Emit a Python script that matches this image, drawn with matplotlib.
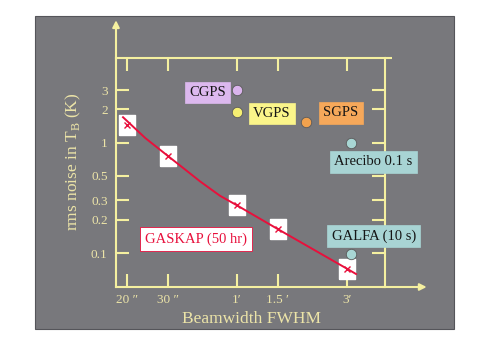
import numpy as np
import matplotlib
matplotlib.use("Agg")
import matplotlib.pyplot as plt
from matplotlib.patches import Rectangle

plt.rcParams['font.family'] = ['Liberation Serif', 'DejaVu Serif']

# ---- data (FWHM in arcsec, rms in K) ----
gaskap_fwhm = [20, 30, 60, 90, 180]
gaskap_rms = [1.45, 0.75, 0.27, 0.165, 0.072]

curve_fwhm = [19.2, 24, 30, 35, 41.5, 50.6, 60, 90, 180, 197]
curve_rms = [1.7, 1.1, 0.76, 0.59, 0.445, 0.33, 0.27, 0.165, 0.072, 0.0645]

survey_names = ['CGPS', 'VGPS', 'SGPS', 'Arecibo', 'GALFA']
survey_fwhm = [60, 60, 120, 188, 188]
survey_rms = [3.0, 1.9, 1.55, 1.0, 0.097]

xtick_vals = [20, 30, 60, 90, 180]
xtick_labels = ['20 \u2033', '30 \u2033', '1\u2032', '1.5 \u2032', '3\u2032']
ytick_vals = [0.1, 0.2, 0.3, 0.5, 1, 2, 3]
ytick_labels = ['0.1', '0.2', '0.3', '0.5', '1', '2', '3']

# ---- colours ----
bg = '#78787c'
axc = '#f5f0a0'
txtc = '#ece4a8'
red = '#e8103c'
survey_colors = ['#dab4ec', '#f6ef72', '#f2a24e', '#a8d6d4', '#a8d6d4']
box_colors = ['#dcb8ee', '#fbf58a', '#f6a85a', '#a8d4d4', '#a8d4d4']

fig = plt.figure(figsize=(4.9, 3.46), dpi=100)
fig.patches.append(Rectangle((35 / 490, 1 - 329 / 346), 419 / 490, 313 / 346,
                             transform=fig.transFigure, facecolor=bg,
                             edgecolor='#55555a', lw=0.8, zorder=-1))

ax = fig.add_axes([116 / 490, 1 - 287 / 346, 269 / 490, 229 / 346])
ax.set_facecolor('none')
ax.set_xscale('log')
ax.set_yscale('log')
ax.set_xlim(17.9, 263)
ax.set_ylim(0.0492, 5.85)

for s in ax.spines.values():
    s.set_color(axc)
    s.set_linewidth(1.5)

ax.set_xticks(xtick_vals)
ax.set_xticklabels(xtick_labels)
ax.set_yticks(ytick_vals)
ax.set_yticklabels(ytick_labels)
ax.minorticks_off()
ax.tick_params(which='both', direction='in', length=9.5, width=1.5, color=axc,
               labelcolor=txtc, labelsize=9.5, top=True, right=True, pad=5)
ax.tick_params(axis='y', pad=6)

# arrows and extended top line
ax.annotate('', xy=(0, 1.165), xytext=(0, 0.99), xycoords='axes fraction',
            arrowprops=dict(arrowstyle='-|>', color=axc, lw=1.5,
                            mutation_scale=10, shrinkA=0, shrinkB=0),
            annotation_clip=False)
ax.annotate('', xy=(1.155, 0), xytext=(0.99, 0), xycoords='axes fraction',
            arrowprops=dict(arrowstyle='-|>', color=axc, lw=1.5,
                            mutation_scale=10, shrinkA=0, shrinkB=0),
            annotation_clip=False)
ax.plot([1, 1.026], [1, 1], transform=ax.transAxes, color=axc, lw=1.5,
        clip_on=False, solid_capstyle='butt')

# GASKAP
rect = [(-0.76, -1), (0.76, -1), (0.76, 1), (-0.76, 1), (-0.76, -1)]
ax.plot(gaskap_fwhm, gaskap_rms, ls='none', marker=rect, markersize=15,
        markerfacecolor='white', markeredgecolor='white', zorder=3)
ax.plot(curve_fwhm, curve_rms, color=red, lw=1.4, zorder=4, solid_joinstyle='round')
ax.plot(gaskap_fwhm, gaskap_rms, ls='none', marker='x', markersize=5,
        markeredgewidth=1.0, color=red, zorder=5)

# other surveys
for fx, ry, c in zip(survey_fwhm, survey_rms, survey_colors):
    ax.plot(fx, ry, 'o', markersize=7.5, markerfacecolor=c,
            markeredgecolor='#5a5a5a', markeredgewidth=0.6, zorder=4)

labels = ['CGPS', 'VGPS', 'SGPS', 'Arecibo 0.1 s', 'GALFA (10 s)']
label_pos = [(0.340, 0.849), (0.580, 0.758), (0.835, 0.760),
             (0.957, 0.546), (0.959, 0.223)]
for t, (px, py), c in zip(labels, label_pos, box_colors):
    ax.text(px, py, t, transform=ax.transAxes, ha='center', va='center',
            fontsize=10.5, color='#151515', zorder=6, clip_on=False,
            bbox=dict(boxstyle='square,pad=0.3', facecolor=c, edgecolor=c, lw=0.5))

ax.text(0.296, 0.210, 'GASKAP (50 hr)', transform=ax.transAxes, ha='center',
        va='center', fontsize=10.5, color=red, zorder=6,
        bbox=dict(boxstyle='square,pad=0.35', facecolor='white', edgecolor=red, lw=0.6))

fig.text(73 / 490, 1 - 162 / 346, 'rms noise in T$_\\mathregular{B}$ (K)',
         rotation=90, ha='center', va='center', fontsize=12.5, color=txtc)
fig.text(252 / 490, 1 - 319 / 346, 'Beamwidth FWHM', ha='center', va='center',
         fontsize=12.5, color=txtc)

fig.savefig('out.png', dpi=100)
